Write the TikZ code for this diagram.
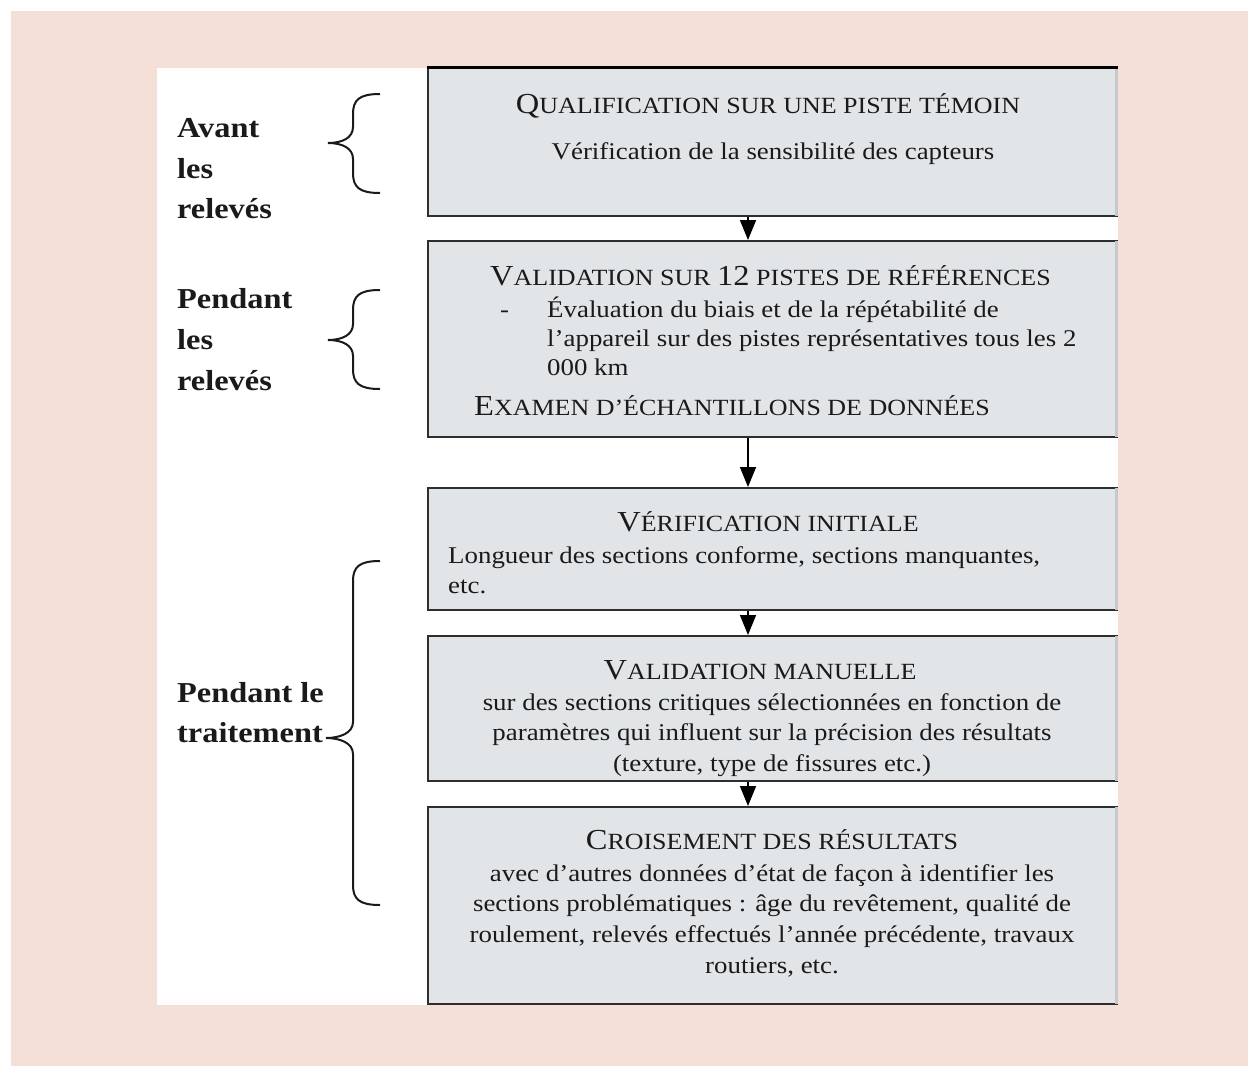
\documentclass[tikz,border=0pt]{standalone}
\usepackage{fontspec}
\setmainfont{Liberation Serif}[FakeStretch=1.12]
\usetikzlibrary{arrows.meta}
\definecolor{bgpink}{HTML}{F4E0D6}
\definecolor{boxfill}{HTML}{E2E5E8}
\definecolor{boxline}{HTML}{2E2E2E}
\definecolor{edgegray}{HTML}{C6C9CC}
\definecolor{txt}{HTML}{1A1A1A}
\newcommand\bodyf{\fontsize{24}{30}\selectfont}
\newcommand\bigf{\fontsize{29}{30}\selectfont}
\newcommand\smallf{\fontsize{23.2}{30}\selectfont}
\newcommand\lblf{\fontsize{28.9}{40}\selectfont\bfseries}
\newcommand\hsc[2]{{\bigf #1}{\smallf #2}}
\newcommand\drawbrace[4]{%
  \draw[bracel] (380,#1) .. controls (359,#1) and (353,#1+6) .. (353,#1+20)
    -- (353,#2-16) .. controls (353,#2-5) and (#4+14,#2) .. (#4,#2)
    .. controls (#4+14,#2) and (353,#2+5) .. (353,#2+16)
    -- (353,#3-20) .. controls (353,#3-6) and (359,#3) .. (380,#3);}
\tikzset{
  stepbox/.style={draw=boxline, line width=2pt, fill=boxfill, rectangle,
    inner sep=0pt, minimum width=689pt},
  redge/.style={draw=edgegray, line width=3pt},
  arr/.style={draw=black, line width=1.6pt, -{Triangle[width=16pt,length=20pt]}},
  bracel/.style={draw=txt, line width=2pt},
  tc/.style={anchor=base, inner sep=0pt, text=txt, font=\bodyf},
  tl/.style={anchor=base west, inner sep=0pt, text=txt, font=\bodyf},
  hd/.style={anchor=base, inner sep=0pt, text=txt},
  hdl/.style={anchor=base west, inner sep=0pt, text=txt},
  lbl/.style={anchor=base west, inner sep=0pt, text=txt, font=\lblf},
}
\begin{document}
\begin{tikzpicture}[x=1pt, y=-1pt]
\useasboundingbox (0,0) rectangle (1248,1066);
\fill[white] (0,0) rectangle (1248,1066);
\fill[bgpink] (11,11) rectangle (1248,1066);
\fill[white] (157,68) rectangle (1118,1005);

% boxes
\node[stepbox, minimum height=148pt] (b1) at (772.5,142) {};
\node[stepbox, minimum height=196pt] (b2) at (772.5,339) {};
\node[stepbox, minimum height=122pt] (b3) at (772.5,549) {};
\node[stepbox, minimum height=145pt] (b4) at (772.5,708.5) {};
\node[stepbox, minimum height=197pt] (b5) at (772.5,905.5) {};
\foreach \b in {b1,b2,b3,b4,b5}{
  \draw[redge] ([xshift=-1.5pt,yshift=-1pt]\b.north east) -- ([xshift=-1.5pt,yshift=1pt]\b.south east);
}
\draw[black, line width=3pt] (b1.north west) -- (b1.north east);

% arrows
\coordinate (ax) at (748,0);
\draw[arr] (b1.south -| ax) -- (b2.north -| ax);
\draw[arr] (b2.south -| ax) -- (b3.north -| ax);
\draw[arr] (b3.south -| ax) -- (b4.north -| ax);
\draw[arr] (b4.south -| ax) -- (b5.north -| ax);

% box 1
\node[hd] (h1) at (768,113) {\hsc{Q}{UALIFICATION SUR UNE PISTE TÉMOIN}};
\node[tc] (t1a) at (773,159) {Vérification de la sensibilité des capteurs};

% box 2
\node[hdl] (h2) at (490,285) {\hsc{V}{ALIDATION SUR }{\bigf 12}{\smallf\ PISTES DE RÉFÉRENCES}};
\node[tl] (d2) at (500,317) {-};
\node[tl] (t2a) at (547,317) {Évaluation du biais et de la répétabilité de};
\node[tl] (t2b) at (547,346) {l’appareil sur des pistes représentatives tous les 2};
\node[tl] (t2c) at (547,375) {000 km};
\node[hdl] (h2b) at (474,415) {\hsc{E}{XAMEN D’ÉCHANTILLONS DE DONNÉES}};

% box 3
\node[hd] (h3) at (768,531) {\hsc{V}{ÉRIFICATION INITIALE}};
\node[tl] (t3a) at (448,563) {Longueur des sections conforme, sections manquantes,};
\node[tl] (t3b) at (448,593) {etc.};

% box 4
\node[hd] (h4) at (760,679) {\hsc{V}{ALIDATION MANUELLE}};
\node[tc] (t4a) at (772,710) {sur des sections critiques sélectionnées en fonction de};
\node[tc] (t4b) at (772,740) {paramètres qui influent sur la précision des résultats};
\node[tc] (t4c) at (772,771) {(texture, type de fissures etc.)};

% box 5
\node[hd] (h5) at (772,849) {\hsc{C}{ROISEMENT DES RÉSULTATS}};
\node[tc] (t5a) at (772,881) {avec d’autres données d’état de façon à identifier les};
\node[tc] (t5b) at (772,911) {sections problématiques~: âge du revêtement, qualité de};
\node[tc] (t5c) at (772,942) {roulement, relevés effectués l’année précédente, travaux};
\node[tc] (t5d) at (772,973) {routiers, etc.};

% labels
\node[lbl] (l1a) at (177,137) {Avant};
\node[lbl] (l1b) at (177,178) {les};
\node[lbl] (l1c) at (177,218) {relevés};
\node[lbl] (l2a) at (177,308) {Pendant};
\node[lbl] (l2b) at (177,349) {les};
\node[lbl] (l2c) at (177,390) {relevés};
\node[lbl] (l3a) at (177,702) {Pendant le};
\node[lbl] (l3b) at (177,742) {traitement};

% braces
\drawbrace{94}{143}{193}{328}
\drawbrace{290}{340}{389}{328}
\drawbrace{561}{738}{905}{326}
\end{tikzpicture}
\end{document}
